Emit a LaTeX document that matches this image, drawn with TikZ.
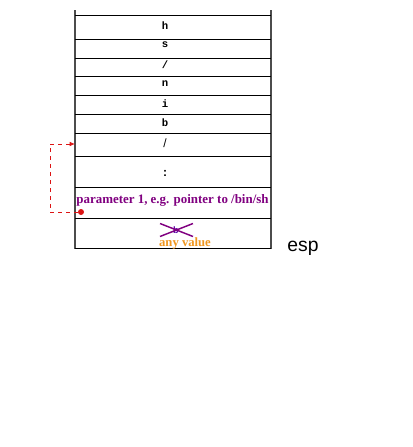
\documentclass[tikz,border=0pt]{standalone}
\usepackage{fontspec}
\setmainfont{Liberation Serif}
\newfontfamily\monofnt{Liberation Mono}
\newfontfamily\sansfnt{Liberation Sans}
\usetikzlibrary{arrows.meta}
\definecolor{ppl}{RGB}{128,0,128}
\definecolor{orng}{RGB}{240,150,30}
\definecolor{redd}{RGB}{220,20,20}
\tikzset{
  x=0.75pt,y=-0.75pt,
  hline/.style={black,line width=0.7pt},
  vline/.style={black!70,line width=0.9pt},
  celltxt/.style={inner sep=0pt,font=\monofnt\bfseries\fontsize{8}{9}\selectfont},
  celltxtb/.style={inner sep=0pt,font=\sansfnt\fontsize{9}{10}\selectfont},
  dasharrow/.style={redd,dashed,line width=0.6pt,-{Latex[length=4pt,width=3.5pt]}},
}
\begin{document}
\begin{tikzpicture}
\useasboundingbox (0,0) rectangle (413,447);
% verticals
\draw[vline] (75,10) -- (75,249);
\draw[vline] (271,10) -- (271,249);
% horizontals
\foreach \yy in {15,39,58,76,95,114,133,156,187,218,248}
  \draw[hline] (75,\yy) -- (271,\yy);
% cell texts
\node[celltxt] (c1) at (165,26) {h};
\node[celltxt] (c2) at (165,45) {s};
\node[celltxt] (c3) at (165,65) {/};
\node[celltxt] (c4) at (165,84) {n};
\node[celltxt] (c5) at (165,104) {i};
\node[celltxt] (c6) at (165,123) {b};
\node[celltxtb] (c7) at (165,143) {/};
\node[celltxtb,font=\sansfnt\bfseries\fontsize{9}{10}\selectfont] (c8) at (165,173) {:};
\node[inner sep=0pt,text=ppl,font=\bfseries\fontsize{9.7}{11}\selectfont] (param) at (172.5,200.5) {parameter 1, e.g. pointer to /bin/sh};
% crossed value
\node[inner sep=0pt,text=ppl!70!blue,font=\monofnt\bfseries\fontsize{7}{8}\selectfont] (bx) at (176,230) {b};
\draw[ppl,line width=1.1pt] (160,223.5) -- (193,236.5);
\draw[ppl,line width=1.1pt] (160,236.5) -- (193,223.5);
\node[inner sep=0pt,text=orng,font=\bfseries\fontsize{9.5}{11}\selectfont] (anyv) at (185,243) {any value};
\node[inner sep=0pt,font=\sansfnt\fontsize{14.5}{16}\selectfont] (esp) at (303,248) {esp};
% pointer
\node[circle,fill=redd,inner sep=0pt,minimum size=4.5pt] (dot) at (81,212) {};
\coordinate (arrTgt) at (75,144);
\draw[dasharrow] (dot) -- (50,212) |- (arrTgt);
\end{tikzpicture}
\end{document}
